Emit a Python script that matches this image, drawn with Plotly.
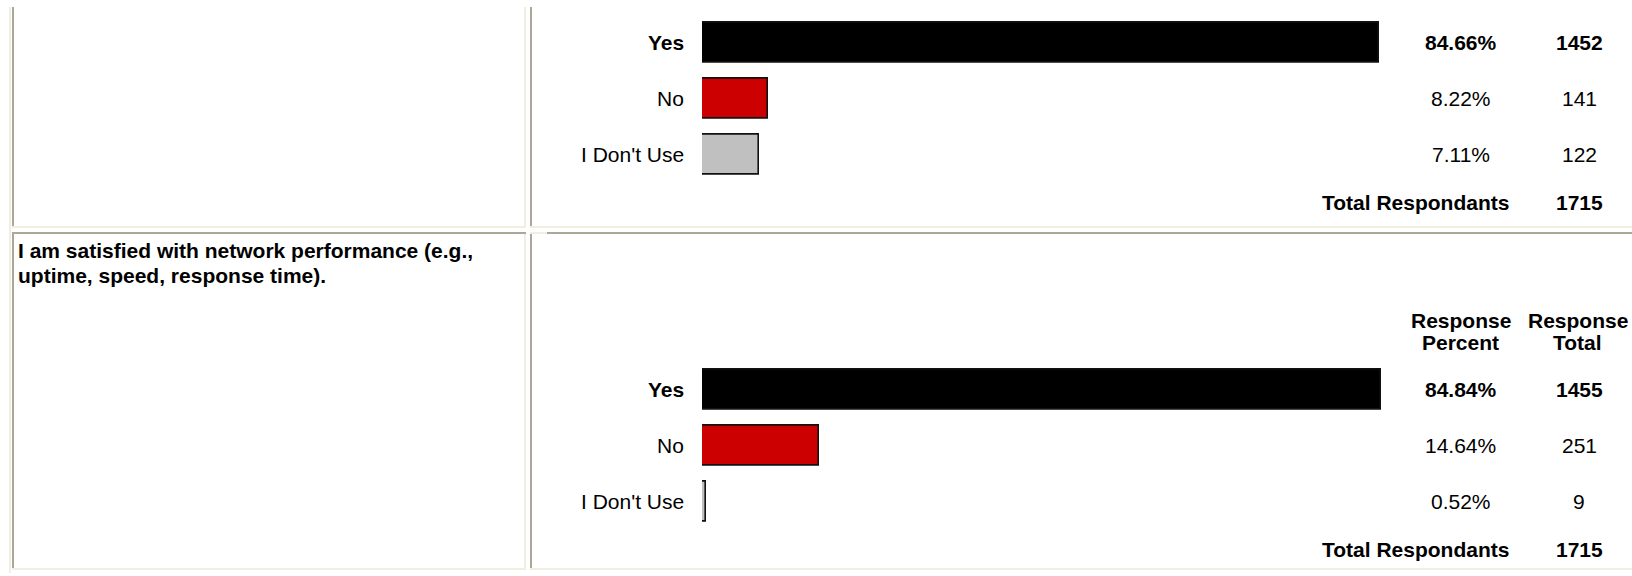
import plotly.graph_objects as go

# ---- survey data -------------------------------------------------------
answers = ["Yes", "No", "I Don't Use"]
answer_colors = ["#000000", "#cc0000", "#c0c0c0"]

q1_percent = [84.66, 8.22, 7.11]
q1_count = [1452, 141, 122]
q1_total = 1715

q2_question = ["I am satisfied with network performance (e.g.,",
               "uptime, speed, response time)."]
q2_percent = [84.84, 14.64, 0.52]
q2_count = [1455, 251, 9]
q2_total = 1715

header_percent = ["Response", "Percent"]
header_total = ["Response", "Total"]
total_label = "Total Respondants"

# ---- page geometry (pixels) --------------------------------------------
W, H = 1632, 576
FONT = "Liberation Sans, Arial, sans-serif"
FS = 21
DARK = "#aca899"
LIGHT = "#f1efe2"

BAR_LEFT, BAR_SPAN = 702, 800     # 0 % .. 100 %
ROW = 56                           # row pitch
BAR_H = 40
SEC_OFFSET = 347                   # vertical shift between the two blocks
FIRST_ROW = 42.7                   # centre of the first answer row
LABEL_RIGHT = 686
PCT_X, CNT_X = 1460.5, 1579
TOTAL_RIGHT = 1511


def px(x):
    return x / W


def py(y):
    return 1 - y / H


fig = go.Figure()

blocks = [
    (q1_percent, q1_count, q1_total, "x", "y", 0),
    (q2_percent, q2_count, q2_total, "x2", "y2", SEC_OFFSET),
]

annotations = []


def text(x, y, s, anchor="center", bold=False, yref="paper"):
    annotations.append(dict(
        x=px(x), xref="paper", y=y, yref=yref,
        text=f"<b>{s}</b>" if bold else s,
        xanchor=anchor, yanchor="middle", showarrow=False,
        font=dict(family=FONT, size=FS, color="#000000"),
    ))


layout_axes = {}
for i, (pct, cnt, tot, xa, ya, off) in enumerate(blocks):
    top = FIRST_ROW - ROW / 2 + off
    bottom = top + ROW * len(answers)
    suffix = "" if i == 0 else str(i + 1)
    layout_axes["xaxis" + suffix] = dict(
        domain=[px(BAR_LEFT), px(BAR_LEFT + BAR_SPAN)], range=[0, 100],
        visible=False, fixedrange=True, anchor=ya,
    )
    layout_axes["yaxis" + suffix] = dict(
        domain=[py(bottom), py(top)], type="category",
        categoryorder="array", categoryarray=answers,
        range=[len(answers) - 0.5, -0.5],
        visible=False, fixedrange=True, anchor=xa,
    )
    fig.add_trace(go.Bar(
        x=pct, y=answers, orientation="h", xaxis=xa, yaxis=ya,
        width=BAR_H / ROW,
        marker=dict(color=answer_colors, line=dict(color="#111111", width=1.6)),
        hoverinfo="skip", showlegend=False,
    ))
    top_answer = pct.index(max(pct))
    for k, ans in enumerate(answers):
        b = k == top_answer
        text(LABEL_RIGHT, ans, ans, "right", b, yref=ya)
        text(PCT_X, ans, f"{pct[k]:.2f}%", "center", b, yref=ya)
        text(CNT_X, ans, f"{cnt[k]}", "center", b, yref=ya)
    total_y = py(FIRST_ROW + off + ROW * 2 + 48)
    text(TOTAL_RIGHT, total_y, total_label, "right", True)
    text(CNT_X, total_y, f"{tot}", "center", True)

# column headers of the second block
for j, (hp, ht) in enumerate(zip(header_percent, header_total)):
    yy = py(320 + j * 22.7)
    text(PCT_X, yy, hp, "center", True)
    text(CNT_X - 1.5, yy, ht, "center", True)

# question text in the left cell
for j, line in enumerate(q2_question):
    text(16, py(251 + j * 24), line, "left", True)

# ---- table borders --------------------------------------------------------
shapes = []


def band(x0, x1, y0, y1, color):
    shapes.append(dict(
        type="rect", xref="paper", yref="paper",
        x0=px(x0), x1=px(x1), y0=py(y1), y1=py(y0),
        fillcolor=color, line=dict(width=0), layer="below",
    ))


band(9, 11, 7, 573, LIGHT)                        # outer table edge
for (r0, r1) in [(7, 228), (232, 570)]:
    band(12, 14, r0, r1, DARK)                    # left cell, left edge
    band(524, 526, r0, r1, LIGHT)                 # left cell, right edge
    band(530, 532, r0, r1, DARK)                  # right cell, left edge
for y0 in (226, 568):
    band(12, 526, y0, y0 + 2, LIGHT)              # cell bottoms
    band(530, W, y0, y0 + 2, LIGHT)
band(12, 526, 232, 234, DARK)                     # second row tops
band(530, 547, 232, 234, LIGHT)
band(547, W, 232, 234, DARK)

fig.update_layout(
    width=W, height=H,
    margin=dict(l=0, r=0, t=0, b=0),
    paper_bgcolor="#ffffff", plot_bgcolor="rgba(0,0,0,0)",
    barmode="overlay", bargap=0,
    annotations=annotations, shapes=shapes,
    **layout_axes,
)

fig.write_html("out.html", config={"displayModeBar": False})
